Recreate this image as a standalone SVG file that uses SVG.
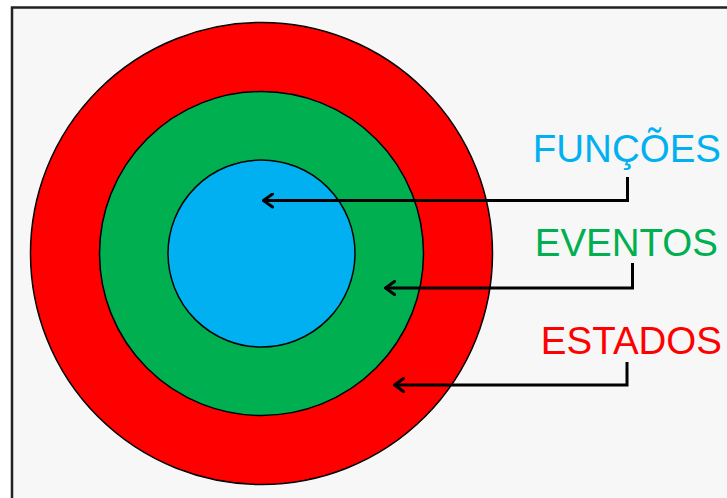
<svg xmlns="http://www.w3.org/2000/svg" width="727" height="498" viewBox="0 0 727 498">
<defs>
<style>
.ring{stroke:#000;stroke-width:1.5}
.conn{fill:none;stroke:#000;stroke-width:3;stroke-linejoin:miter}
.lbl{font-family:"Liberation Sans",Arial,sans-serif;font-size:38.5px;text-anchor:end}
</style>
<marker id="ah" viewBox="0 0 12 16" refX="10.5" refY="8" markerWidth="12" markerHeight="16" markerUnits="userSpaceOnUse" orient="auto">
<path d="M1 1.5 L10 8 L1 14.5" fill="none" stroke="#000" stroke-width="3" stroke-linecap="round" stroke-linejoin="round"/>
</marker>
</defs>
<rect x="0" y="0" width="727" height="498" fill="#fff"/>
<rect x="12" y="7.5" width="730" height="500" fill="#f7f7f7" stroke="#222" stroke-width="2.5"/>
<g id="estados-ring"><circle class="ring" cx="261.5" cy="253.5" r="231" fill="#ff0000"/></g>
<g id="eventos-ring"><circle class="ring" cx="261.5" cy="253.5" r="162" fill="#00b050"/></g>
<g id="funcoes-ring"><circle class="ring" cx="261.5" cy="253.5" r="93.5" fill="#00b0f0"/></g>
<g id="funcoes-label"><text class="lbl" x="721" y="162" fill="#00b0f0">FUNÇÕES</text></g>
<g id="eventos-label"><text class="lbl" x="718" y="256" fill="#00b050">EVENTOS</text></g>
<g id="estados-label"><text class="lbl" x="722" y="354" fill="#ff0000">ESTADOS</text></g>
<g id="connectors">
<path class="conn" d="M627.5 177 V200.5 H263" marker-end="url(#ah)"/>
<path class="conn" d="M632.5 263 V288 H385" marker-end="url(#ah)"/>
<path class="conn" d="M627 362 V385 H394" marker-end="url(#ah)"/>
</g>
</svg>
